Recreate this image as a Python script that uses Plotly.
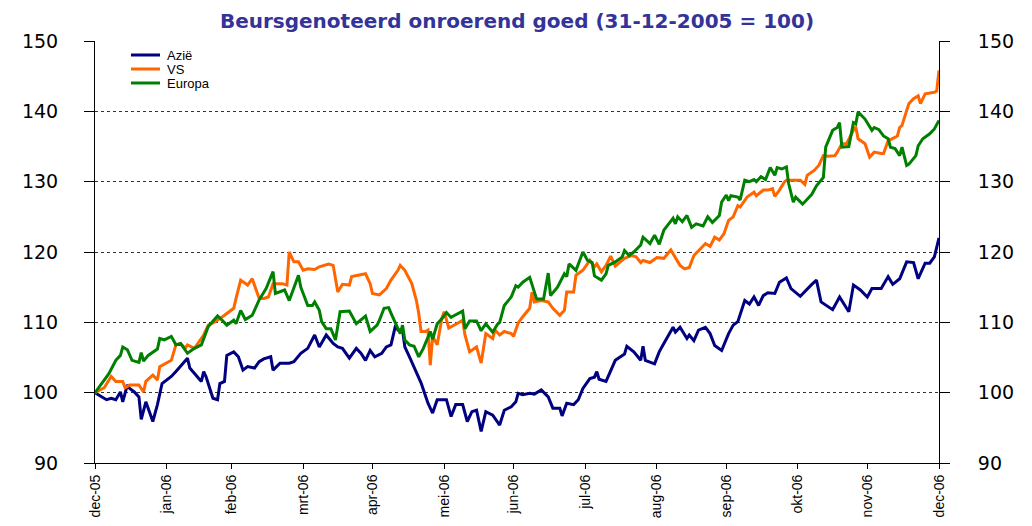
import plotly.graph_objects as go

# ---------------- data ----------------
azie_dates = [
    "2005-12-31", "2006-01-05", "2006-01-07", "2006-01-09", "2006-01-11", "2006-01-12", "2006-01-14",
    "2006-01-15", "2006-01-17", "2006-01-19", "2006-01-20", "2006-01-22", "2006-01-25", "2006-01-27",
    "2006-01-29", "2006-01-31", "2006-02-02", "2006-02-04", "2006-02-06", "2006-02-09", "2006-02-10",
    "2006-02-12", "2006-02-15", "2006-02-16", "2006-02-17", "2006-02-20", "2006-02-22", "2006-02-23",
    "2006-02-25", "2006-02-26", "2006-03-01", "2006-03-03", "2006-03-05", "2006-03-07", "2006-03-10",
    "2006-03-12", "2006-03-14", "2006-03-17", "2006-03-18", "2006-03-21", "2006-03-25", "2006-03-27",
    "2006-03-30", "2006-04-02", "2006-04-05", "2006-04-07", "2006-04-10", "2006-04-13", "2006-04-15",
    "2006-04-17", "2006-04-20", "2006-04-23", "2006-04-25", "2006-04-27", "2006-04-29", "2006-05-01",
    "2006-05-04", "2006-05-06", "2006-05-08", "2006-05-10", "2006-05-11", "2006-05-13", "2006-05-14",
    "2006-05-16", "2006-05-19", "2006-05-21", "2006-05-24", "2006-05-25", "2006-05-26", "2006-05-28",
    "2006-06-01", "2006-06-03", "2006-06-05", "2006-06-08", "2006-06-10", "2006-06-12", "2006-06-14",
    "2006-06-16", "2006-06-18", "2006-06-21", "2006-06-24", "2006-06-26", "2006-06-29", "2006-07-01",
    "2006-07-02", "2006-07-04", "2006-07-07", "2006-07-09", "2006-07-12", "2006-07-15", "2006-07-17",
    "2006-07-20", "2006-07-21", "2006-07-23", "2006-07-26", "2006-07-28", "2006-07-30", "2006-08-02",
    "2006-08-04", "2006-08-05", "2006-08-06", "2006-08-09", "2006-08-13", "2006-08-17", "2006-08-18",
    "2006-08-21", "2006-08-24", "2006-08-25", "2006-08-26", "2006-08-30", "2006-09-01", "2006-09-03",
    "2006-09-07", "2006-09-08", "2006-09-10", "2006-09-13", "2006-09-14", "2006-09-16", "2006-09-18",
    "2006-09-21", "2006-09-23", "2006-09-25", "2006-09-28", "2006-10-01", "2006-10-03", "2006-10-05",
    "2006-10-08", "2006-10-10", "2006-10-12", "2006-10-14", "2006-10-16", "2006-10-18", "2006-10-21",
    "2006-10-23", "2006-10-26", "2006-10-28", "2006-11-01", "2006-11-06", "2006-11-08", "2006-11-10",
    "2006-11-15", "2006-11-18", "2006-11-22", "2006-11-24", "2006-11-27", "2006-11-30", "2006-12-02",
    "2006-12-06", "2006-12-09", "2006-12-11", "2006-12-14", "2006-12-17", "2006-12-20", "2006-12-22",
    "2006-12-25", "2006-12-27", "2006-12-29", "2006-12-31",
]
azie_values = [
    100.0, 99.0, 99.2, 99.0, 100.1, 98.7, 101.1,
    100.6, 100.1, 99.4, 96.2, 98.7, 95.9, 98.3,
    101.3, 101.8, 102.3, 103.0, 103.7, 104.9, 103.5,
    102.7, 101.6, 103.0, 102.3, 99.2, 99.0, 101.3,
    101.6, 105.3, 105.8, 105.1, 103.2, 103.7, 103.5,
    104.4, 104.8, 105.1, 103.2, 104.2, 104.2, 104.4,
    105.6, 106.3, 108.2, 106.5, 108.2, 107.0, 106.5,
    106.3, 104.9, 106.3, 105.6, 104.6, 106.0, 105.1,
    105.6, 106.5, 106.8, 109.6, 108.9, 108.9, 106.5,
    105.1, 102.8, 101.4, 98.5, 97.8, 97.1, 99.0,
    99.0, 96.6, 98.3, 98.3, 95.9, 97.3, 97.5,
    94.5, 97.3, 96.8, 95.4, 97.5, 98.0, 98.7,
    99.9, 99.7, 99.9, 99.8, 100.4, 99.4, 97.8,
    97.8, 96.7, 98.5, 98.3, 99.0, 100.6, 102.0,
    102.2, 103.0, 101.9, 101.6, 104.6, 105.5, 106.6,
    105.8, 104.6, 106.6, 104.6, 104.1, 105.8, 107.0,
    109.3, 108.6, 109.3, 107.7, 108.2, 107.4, 108.9,
    109.3, 108.4, 106.7, 106.0, 108.4, 109.6, 110.1,
    113.1, 112.6, 113.6, 112.4, 113.8, 114.2, 114.1,
    115.7, 116.3, 114.8, 113.7, 115.4, 116.0, 112.9,
    111.8, 113.6, 111.5, 115.3, 114.6, 113.6, 114.8,
    114.8, 116.5, 115.4, 116.2, 118.6, 118.5, 116.2,
    118.4, 118.4, 119.3, 122.0,
]

vs_dates = [
    "2005-12-31", "2006-01-04", "2006-01-07", "2006-01-09", "2006-01-12", "2006-01-13", "2006-01-15",
    "2006-01-19", "2006-01-21", "2006-01-22", "2006-01-25", "2006-01-27", "2006-01-28", "2006-01-31",
    "2006-02-02", "2006-02-04", "2006-02-06", "2006-02-08", "2006-02-09", "2006-02-12", "2006-02-14",
    "2006-02-16", "2006-02-18", "2006-02-21", "2006-02-25", "2006-03-01", "2006-03-02", "2006-03-04",
    "2006-03-07", "2006-03-09", "2006-03-12", "2006-03-14", "2006-03-16", "2006-03-18", "2006-03-22",
    "2006-03-24", "2006-03-25", "2006-03-27", "2006-03-29", "2006-03-31", "2006-04-02", "2006-04-05",
    "2006-04-07", "2006-04-11", "2006-04-13", "2006-04-15", "2006-04-17", "2006-04-20", "2006-04-21",
    "2006-04-24", "2006-04-27", "2006-04-29", "2006-04-30", "2006-05-03", "2006-05-06", "2006-05-08",
    "2006-05-11", "2006-05-12", "2006-05-14", "2006-05-17", "2006-05-19", "2006-05-20", "2006-05-21",
    "2006-05-23", "2006-05-24", "2006-05-25", "2006-05-26", "2006-05-28", "2006-05-30", "2006-05-31",
    "2006-06-02", "2006-06-06", "2006-06-08", "2006-06-09", "2006-06-11", "2006-06-14", "2006-06-16",
    "2006-06-18", "2006-06-21", "2006-06-22", "2006-06-24", "2006-06-26", "2006-06-29", "2006-06-30",
    "2006-07-02", "2006-07-04", "2006-07-07", "2006-07-08", "2006-07-09", "2006-07-12", "2006-07-15",
    "2006-07-17", "2006-07-20", "2006-07-22", "2006-07-23", "2006-07-26", "2006-07-27", "2006-07-30",
    "2006-08-02", "2006-08-04", "2006-08-05", "2006-08-07", "2006-08-09", "2006-08-11", "2006-08-13",
    "2006-08-17", "2006-08-20", "2006-08-22", "2006-08-24", "2006-08-25", "2006-08-28", "2006-08-31",
    "2006-09-03", "2006-09-06", "2006-09-07", "2006-09-10", "2006-09-12", "2006-09-14", "2006-09-16",
    "2006-09-19", "2006-09-21", "2006-09-23", "2006-09-25", "2006-09-27", "2006-09-29", "2006-10-01",
    "2006-10-03", "2006-10-05", "2006-10-06", "2006-10-09", "2006-10-12", "2006-10-13", "2006-10-16",
    "2006-10-18", "2006-10-20", "2006-10-21", "2006-10-23", "2006-10-25", "2006-10-26", "2006-10-29",
    "2006-11-01", "2006-11-03", "2006-11-04", "2006-11-07", "2006-11-09", "2006-11-11", "2006-11-13",
    "2006-11-16", "2006-11-17", "2006-11-19", "2006-11-21", "2006-11-24", "2006-11-25", "2006-11-26",
    "2006-11-28", "2006-11-29", "2006-12-01", "2006-12-03", "2006-12-06", "2006-12-07", "2006-12-09",
    "2006-12-11", "2006-12-13", "2006-12-14", "2006-12-15", "2006-12-17", "2006-12-18", "2006-12-20",
    "2006-12-22", "2006-12-23", "2006-12-25", "2006-12-29", "2006-12-30", "2006-12-31",
]
vs_values = [
    100.0, 100.7, 102.3, 101.6, 101.6, 100.7, 101.1,
    101.1, 100.1, 101.6, 102.5, 101.8, 103.7, 104.3,
    104.6, 106.8, 107.0, 106.3, 106.8, 106.3, 107.2,
    108.2, 109.6, 110.1, 111.0, 112.0, 113.4, 116.0,
    115.3, 116.2, 113.4, 113.4, 113.6, 115.5, 115.5,
    115.3, 120.0, 118.6, 118.6, 117.4, 117.6, 117.5,
    117.9, 118.3, 118.1, 114.3, 115.4, 115.3, 116.5,
    116.7, 116.9, 115.5, 114.1, 113.9, 114.8, 116.0,
    117.4, 118.1, 117.4, 115.5, 113.1, 111.3, 108.7,
    108.7, 108.9, 103.9, 108.0, 106.8, 110.6, 111.5,
    109.2, 109.9, 110.3, 108.2, 105.8, 106.5, 104.2,
    108.4, 107.7, 108.9, 108.2, 108.7, 108.4, 108.0,
    109.9, 110.8, 112.0, 114.3, 112.9, 113.1, 112.9,
    112.0, 111.0, 111.7, 114.3, 114.3, 116.7, 117.4,
    118.8, 117.9, 118.3, 117.2, 118.1, 119.4, 118.0,
    119.1, 119.5, 119.3, 118.5, 118.8, 118.5, 119.2,
    119.1, 120.3, 119.7, 118.1, 117.6, 117.8, 119.5,
    120.5, 121.2, 120.8, 122.1, 121.7, 122.6, 124.5,
    125.0, 126.6, 126.4, 127.8, 128.5, 128.0, 128.8,
    128.8, 129.0, 127.9, 128.8, 129.9, 130.2, 130.2,
    130.2, 129.6, 130.9, 131.6, 132.3, 133.7, 133.6,
    133.7, 134.2, 135.4, 135.4, 137.3, 137.8, 136.1,
    135.6, 135.4, 133.5, 134.2, 134.0, 134.0, 135.8,
    136.1, 136.5, 137.7, 138.0, 140.1, 141.1, 141.8,
    142.2, 141.1, 142.5, 142.7, 142.9, 145.8,
]

europa_dates = [
    "2005-12-31", "2006-01-06", "2006-01-09", "2006-01-11", "2006-01-12", "2006-01-14", "2006-01-16",
    "2006-01-19", "2006-01-20", "2006-01-21", "2006-01-23", "2006-01-25", "2006-01-27", "2006-01-28",
    "2006-01-30", "2006-02-02", "2006-02-04", "2006-02-06", "2006-02-09", "2006-02-12", "2006-02-15",
    "2006-02-18", "2006-02-22", "2006-02-24", "2006-02-26", "2006-03-01", "2006-03-02", "2006-03-04",
    "2006-03-06", "2006-03-09", "2006-03-11", "2006-03-12", "2006-03-15", "2006-03-18", "2006-03-19",
    "2006-03-21", "2006-03-23", "2006-03-25", "2006-03-27", "2006-03-29", "2006-03-30", "2006-04-02",
    "2006-04-04", "2006-04-05", "2006-04-07", "2006-04-08", "2006-04-10", "2006-04-12", "2006-04-14",
    "2006-04-16", "2006-04-20", "2006-04-23", "2006-04-27", "2006-04-29", "2006-05-02", "2006-05-03",
    "2006-05-05", "2006-05-07", "2006-05-08", "2006-05-11", "2006-05-12", "2006-05-13", "2006-05-14",
    "2006-05-16", "2006-05-18", "2006-05-20", "2006-05-22", "2006-05-25", "2006-05-26", "2006-05-28",
    "2006-05-30", "2006-06-01", "2006-06-03", "2006-06-04", "2006-06-08", "2006-06-09", "2006-06-11",
    "2006-06-14", "2006-06-16", "2006-06-18", "2006-06-20", "2006-06-21", "2006-06-23", "2006-06-24",
    "2006-06-26", "2006-06-29", "2006-07-01", "2006-07-02", "2006-07-04", "2006-07-07", "2006-07-10",
    "2006-07-13", "2006-07-15", "2006-07-16", "2006-07-19", "2006-07-22", "2006-07-23", "2006-07-24",
    "2006-07-27", "2006-07-30", "2006-08-01", "2006-08-03", "2006-08-04", "2006-08-07", "2006-08-09",
    "2006-08-10", "2006-08-13", "2006-08-16", "2006-08-17", "2006-08-19", "2006-08-21", "2006-08-24",
    "2006-08-25", "2006-08-28", "2006-08-30", "2006-09-01", "2006-09-03", "2006-09-07", "2006-09-08",
    "2006-09-09", "2006-09-11", "2006-09-13", "2006-09-15", "2006-09-17", "2006-09-20", "2006-09-22",
    "2006-09-24", "2006-09-27", "2006-09-28", "2006-09-30", "2006-10-01", "2006-10-02", "2006-10-05",
    "2006-10-06", "2006-10-08", "2006-10-10", "2006-10-12", "2006-10-13", "2006-10-15", "2006-10-17",
    "2006-10-19", "2006-10-21", "2006-10-22", "2006-10-24", "2006-10-26", "2006-10-27", "2006-10-29",
    "2006-10-30", "2006-11-02", "2006-11-04", "2006-11-06", "2006-11-08", "2006-11-11", "2006-11-12",
    "2006-11-15", "2006-11-17", "2006-11-18", "2006-11-19", "2006-11-22", "2006-11-24", "2006-11-25",
    "2006-11-26", "2006-11-29", "2006-12-02", "2006-12-03", "2006-12-05", "2006-12-07", "2006-12-09",
    "2006-12-10", "2006-12-12", "2006-12-14", "2006-12-15", "2006-12-17", "2006-12-18", "2006-12-21",
    "2006-12-22", "2006-12-24", "2006-12-27", "2006-12-29", "2006-12-31",
]
europa_values = [
    100.0, 102.7, 104.6, 105.3, 106.5, 106.1, 104.6,
    104.3, 105.7, 104.5, 105.3, 105.8, 106.2, 107.7,
    107.5, 108.0, 106.8, 107.0, 105.6, 106.3, 106.8,
    109.4, 110.9, 110.3, 109.6, 110.3, 109.8, 111.7,
    110.4, 111.0, 112.4, 113.2, 114.8, 117.2, 114.1,
    114.3, 114.6, 113.1, 114.8, 116.7, 115.0, 112.4,
    112.4, 112.9, 111.7, 110.1, 109.1, 109.1, 107.5,
    111.5, 111.6, 109.8, 110.9, 108.7, 109.6, 110.3,
    112.0, 112.1, 111.3, 109.1, 108.4, 109.6, 107.5,
    106.8, 106.6, 105.1, 106.3, 108.7, 107.6, 109.8,
    110.5, 111.4, 110.7, 110.9, 111.6, 109.1, 110.2,
    110.2, 108.8, 109.8, 109.1, 108.6, 109.7, 110.0,
    112.4, 113.6, 115.2, 115.0, 115.7, 116.4, 113.3,
    113.3, 117.0, 113.8, 115.0, 116.9, 116.5, 118.3,
    117.4, 120.0, 118.8, 118.5, 116.6, 116.0, 116.9,
    118.1, 118.6, 119.3, 120.2, 119.5, 120.0, 121.0,
    122.1, 121.2, 122.4, 121.1, 123.1, 124.8, 124.0,
    125.0, 124.3, 125.2, 123.5, 124.0, 123.7, 125.0,
    124.2, 125.2, 127.1, 128.1, 127.3, 128.0, 127.8,
    127.4, 130.2, 130.0, 130.3, 130.0, 130.7, 130.3,
    132.0, 130.9, 132.0, 131.8, 132.1, 129.7, 127.1,
    127.8, 126.8, 127.5, 128.2, 129.4, 130.6, 134.9,
    137.3, 137.7, 138.4, 134.9, 135.0, 138.4, 138.2,
    139.9, 138.9, 137.3, 137.7, 137.4, 136.5, 136.1,
    134.9, 134.7, 133.7, 134.9, 132.3, 132.5, 133.7,
    135.1, 136.1, 136.8, 137.5, 138.7,
]

month_ticks = [
    "2005-12-31", "2006-01-31", "2006-02-28", "2006-03-31", "2006-04-30", "2006-05-31", "2006-06-30",
    "2006-07-31", "2006-08-31", "2006-09-30", "2006-10-31", "2006-11-30", "2006-12-31",
]
month_labels = [
    "dec-05", "jan-06", "feb-06", "mrt-06", "apr-06", "mei-06", "jun-06",
    "jul-06", "aug-06", "sep-06", "okt-06", "nov-06", "dec-06",
]

series_names = ["Azië", "VS", "Europa"]
series_colors = ["#000080", "#FF6600", "#008000"]

title_text = "Beursgenoteerd onroerend goed (31-12-2005 = 100)"

# ---------------- figure ----------------
# The page body has an 8px default margin, so the figure is sized to fit.
W, H = 1024, 518
ML, MR, MT, MB = 87, 93, 33, 63
plot_w = W - ML - MR
plot_h = H - MT - MB

fig = go.Figure()
for name, color, xs, ys in zip(
    series_names,
    series_colors,
    [azie_dates, vs_dates, europa_dates],
    [azie_values, vs_values, europa_values],
):
    fig.add_trace(
        go.Scatter(x=xs, y=ys, name=name, mode="lines",
                   line=dict(color=color, width=3), showlegend=False)
    )

# empty trace to carry the right-hand axis
fig.add_trace(go.Scatter(x=[], y=[], yaxis="y2", showlegend=False, hoverinfo="skip"))

# compact legend (top-left inside the plot), built from the series lists
leg_x0 = 36 / plot_w          # start of line sample (paper fraction)
leg_x1 = 65 / plot_w          # end of line sample
leg_tx = 71 / plot_w          # text start
leg_top = 14                  # px below top of plot area for the first entry
leg_step = 14                 # px between entries
for i, (name, color) in enumerate(zip(series_names, series_colors)):
    yy = 1 - (leg_top + i * leg_step) / plot_h
    fig.add_shape(type="line", xref="paper", yref="paper",
                  x0=leg_x0, x1=leg_x1, y0=yy, y1=yy,
                  line=dict(color=color, width=3))
    fig.add_annotation(xref="paper", yref="paper", x=leg_tx, y=yy,
                       xanchor="left", yanchor="middle", showarrow=False,
                       text=name, borderpad=0,
                       font=dict(family="Liberation Sans", size=13, color="black"))

yfont = dict(family="DejaVu Sans", size=19, color="black")

fig.update_layout(
    width=W,
    height=H,
    paper_bgcolor="white",
    plot_bgcolor="white",
    margin=dict(l=ML, r=MR, t=MT, b=MB),
    title=dict(
        text=title_text,
        x=(ML + plot_w / 2) / W, xanchor="center",
        y=1 - 13 / H, yanchor="middle",
        font=dict(family="DejaVu Sans", size=20, color="#333399", weight="bold"),
    ),
    showlegend=False,
    xaxis=dict(
        type="date",
        range=["2005-12-31", "2006-12-31"],
        tickmode="array",
        tickvals=month_ticks,
        ticktext=month_labels,
        tickangle=-90,
        ticks="outside",
        ticklen=5,
        tickcolor="black",
        showline=True,
        linecolor="black",
        linewidth=1,
        showgrid=False,
        zeroline=False,
        automargin=False,
        tickfont=dict(family="Liberation Sans", size=14, color="black"),
    ),
    yaxis=dict(
        range=[90, 150],
        dtick=10,
        tick0=90,
        ticks="outside",
        ticklen=10,
        tickcolor="black",
        showline=True,
        linecolor="black",
        linewidth=1,
        showgrid=True,
        gridcolor="#333333",
        griddash="dot",
        gridwidth=1,
        zeroline=False,
        automargin=False,
        ticklabelstandoff=22,
        tickfont=yfont,
    ),
    yaxis2=dict(
        overlaying="y",
        side="right",
        anchor="x",
        range=[90, 150],
        dtick=10,
        tick0=90,
        ticks="outside",
        ticklen=10,
        tickcolor="black",
        showline=True,
        linecolor="black",
        linewidth=1,
        showgrid=False,
        zeroline=False,
        automargin=False,
        ticklabelstandoff=24,
        tickfont=yfont,
    ),
)

fig.write_html("out.html")
